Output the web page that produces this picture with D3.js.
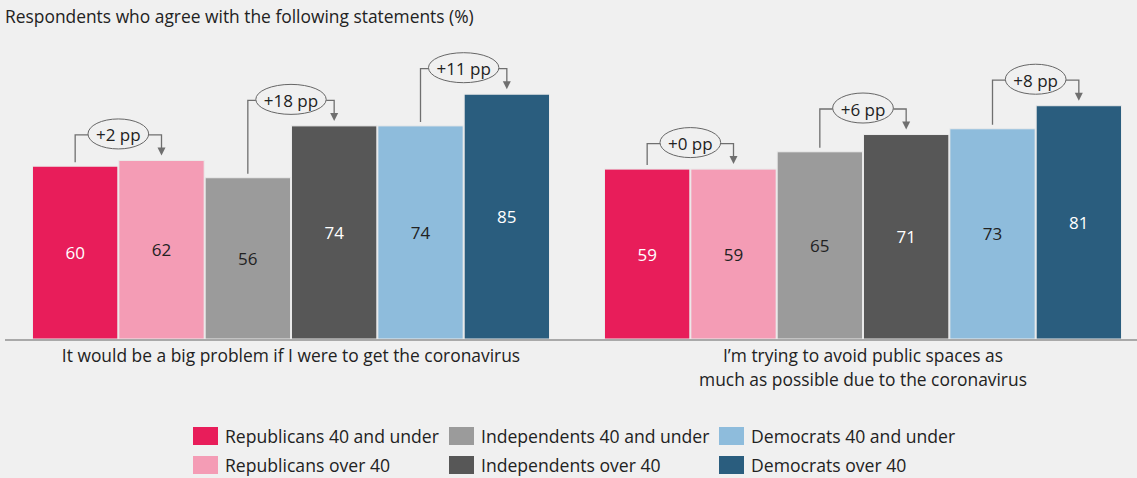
<!DOCTYPE html>
<html>
<head>
<meta charset="utf-8">
<script src="https://cdn.jsdelivr.net/npm/d3@7"></script>
<style>
  html, body { margin: 0; padding: 0; background: #f0f0f0; }
  svg { display: block; font-family: "Open Sans", "Noto Sans", sans-serif; }
</style>
</head>
<body>
<svg id="chart" width="1137" height="478"></svg>
<script>
// Survey statements (x categories), each may wrap to several lines
const statements = [
  ["It would be a big problem if I were to get the coronavirus"],
  ["I\u2019m trying to avoid public spaces as", "much as possible due to the coronavirus"]
];
// Respondent groups (series), in bar order
const seriesNames = [
  "Republicans 40 and under", "Republicans over 40",
  "Independents 40 and under", "Independents over 40",
  "Democrats 40 and under", "Democrats over 40"
];
// Share agreeing (%), one value per series for each statement
const bigProblem = [60, 62, 56, 74, 74, 85];
const avoidPublic = [59, 59, 65, 71, 73, 81];
// Under-40 vs over-40 comparisons, as series index pairs
const agePairs = [[0, 1], [2, 3], [4, 5]];

const colors = ["#e81d5a", "#f49cb5", "#9b9b9b", "#575757", "#8ebcdc", "#2a5d7e"];
const labelColors = ["#ffffff", "#222222", "#222222", "#ffffff", "#222222", "#ffffff"];

const values = [bigProblem, avoidPublic];
const data = statements.map((s, i) => ({ key: i, lines: s, values: values[i] }));

const svg = d3.select("#chart");
const W = 1137, H = 478;
svg.append("rect").attr("width", W).attr("height", H).attr("fill", "#f0f0f0");

const y = d3.scaleLinear().domain([0, 100]).range([339, 51]);
const x0 = d3.scaleBand().domain(data.map(d => d.key)).range([32, 1122]).paddingInner(54 / 572);
const x1 = d3.scaleBand().domain(d3.range(seriesNames.length)).range([0, x0.bandwidth()]).padding(0);

// Title
svg.append("text")
  .attr("x", 5).attr("y", 23)
  .attr("font-size", 17.4).attr("fill", "#222")
  .text("Respondents who agree with the following statements (%)");

const groups = svg.selectAll("g.group").data(data).join("g")
  .attr("class", "group")
  .attr("transform", d => `translate(${x0(d.key)},0)`);

// Bars
groups.selectAll("rect.bar")
  .data(d => d.values.map((v, i) => ({ v, i })))
  .join("rect")
  .attr("class", "bar")
  .attr("x", d => x1(d.i) + 0.5)
  .attr("width", x1.bandwidth() - 1)
  .attr("y", d => y(d.v))
  .attr("height", d => y(0) - y(d.v))
  .attr("fill", d => colors[d.i])
  .attr("stroke", "#eaeaea")
  .attr("stroke-width", 1);

// Value labels, centred in each bar
groups.selectAll("text.val")
  .data(d => d.values.map((v, i) => ({ v, i })))
  .join("text")
  .attr("class", "val")
  .attr("x", d => x1(d.i) + x1.bandwidth() / 2)
  .attr("y", d => (y(d.v) + y(0)) / 2)
  .attr("text-anchor", "middle")
  .attr("dominant-baseline", "central")
  .attr("font-size", 17)
  .attr("fill", d => labelColors[d.i])
  .text(d => d.v);

// Baseline
svg.append("line")
  .attr("x1", 5).attr("x2", W)
  .attr("y1", y(0) + 1).attr("y2", y(0) + 1)
  .attr("stroke", "#a9a9a9").attr("stroke-width", 2);

// Statement labels
groups.append("text")
  .attr("x", x0.bandwidth() / 2)
  .attr("y", 362)
  .attr("text-anchor", "middle")
  .attr("font-size", 17.4).attr("fill", "#222")
  .selectAll("tspan")
  .data(d => d.lines)
  .join("tspan")
  .attr("x", x0.bandwidth() / 2)
  .attr("dy", (d, i) => i === 0 ? 0 : 24)
  .text(d => d);

// Age-gap brackets: under-40 bar -> labelled ellipse -> arrow onto over-40 bar
const lineColor = "#6f6f6f";
groups.each(function (g) {
  const sel = d3.select(this);
  agePairs.forEach(([a, b]) => {
    const va = g.values[a], vb = g.values[b];
    const xa = x1(a) + x1.bandwidth() / 2;
    const xb = x1(b) + x1.bandwidth() / 2;
    const xm = x1(b);
    const top = y(Math.max(va, vb)) - 25.5;
    const diff = vb - va;

    const ann = sel.append("g");
    const label = ann.append("text")
      .attr("x", xm).attr("y", top)
      .attr("text-anchor", "middle")
      .attr("dominant-baseline", "central")
      .attr("font-size", 17).attr("fill", "#222")
      .text(`+${diff} pp`);
    const rx = label.node().getComputedTextLength() / 2 + 8;
    const ry = 15;

    ann.insert("ellipse", "text")
      .attr("cx", xm).attr("cy", top - 1)
      .attr("rx", rx).attr("ry", ry)
      .attr("fill", "#f0f0f0")
      .attr("stroke", "#666").attr("stroke-width", 1);

    const tipY = y(vb) - 5;
    ann.insert("path", "ellipse")
      .attr("d", `M${xa},${y(va) - 4}V${top}H${xm - rx}M${xm + rx},${top}H${xb}V${tipY - 6}`)
      .attr("fill", "none")
      .attr("stroke", lineColor).attr("stroke-width", 1.3);

    ann.append("path")
      .attr("d", `M${xb - 4},${tipY - 8}L${xb + 4},${tipY - 8}L${xb},${tipY}Z`)
      .attr("fill", lineColor);
  });
});

// Legend: three columns (party), two rows (age band)
const legendX = [193, 449, 719];
const legendY = [427, 456];
const legend = svg.selectAll("g.legend")
  .data(seriesNames.map((name, i) => ({ name, i })))
  .join("g")
  .attr("class", "legend")
  .attr("transform", d => `translate(${legendX[Math.floor(d.i / 2)]},${legendY[d.i % 2]})`);

legend.append("rect")
  .attr("width", 25).attr("height", 18)
  .attr("fill", d => colors[d.i]);

legend.append("text")
  .attr("x", 32).attr("y", 16)
  .attr("font-size", 17.6).attr("fill", "#222")
  .text(d => d.name);
</script>
</body>
</html>
